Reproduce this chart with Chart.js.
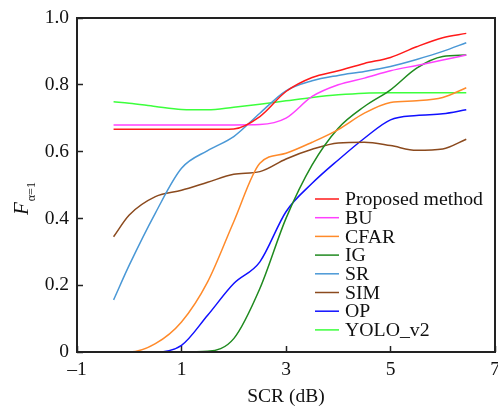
<!DOCTYPE html>
<html>
<head>
<meta charset="utf-8">
<script src="https://cdn.jsdelivr.net/npm/chart.js@4.4.1/dist/chart.umd.min.js"></script>
<style>
  body { margin: 0; background: #fff; }
  #wrap { width: 498px; height: 412px; position: relative; }
</style>
</head>
<body>
<div id="wrap"><canvas id="chartCanvas"></canvas></div>
<script>
const scr = [-0.3, 0, 0.5, 1, 1.5, 2, 2.5, 3, 3.5, 4, 4.5, 5, 5.5, 6, 6.45];

const proposed = [0.667, 0.667, 0.667, 0.667, 0.667, 0.668, 0.705, 0.78, 0.822, 0.842, 0.864, 0.882, 0.914, 0.941, 0.954];
const bu       = [0.68, 0.68, 0.68, 0.68, 0.68, 0.68, 0.681, 0.70, 0.765, 0.80, 0.82, 0.842, 0.858, 0.874, 0.889];
const cfar     = [0, 0, 0.025, 0.09, 0.21, 0.39, 0.565, 0.595, 0.628, 0.666, 0.715, 0.747, 0.752, 0.762, 0.791];
const ig       = [0, 0, 0, 0, 0.002, 0.04, 0.19, 0.40, 0.56, 0.67, 0.735, 0.785, 0.85, 0.885, 0.889];
const sr       = [0.156, 0.26, 0.416, 0.55, 0.603, 0.645, 0.715, 0.782, 0.812, 0.828, 0.84, 0.855, 0.876, 0.90, 0.926];
const sim      = [0.345, 0.41, 0.465, 0.484, 0.508, 0.532, 0.54, 0.578, 0.607, 0.626, 0.628, 0.618, 0.604, 0.608, 0.637];
const op       = [0, 0, 0, 0.02, 0.11, 0.205, 0.27, 0.42, 0.505, 0.575, 0.64, 0.695, 0.708, 0.713, 0.725];
const yolo     = [0.749, 0.745, 0.735, 0.726, 0.725, 0.733, 0.742, 0.752, 0.762, 0.770, 0.775, 0.776, 0.776, 0.776, 0.776];

const seriesNames = ['Proposed method', 'BU', 'CFAR', 'IG', 'SR', 'SIM', 'OP', 'YOLO_v2'];
const seriesValues = [proposed, bu, cfar, ig, sr, sim, op, yolo];
const seriesColors = ['#ff1a1a', '#ff40ff', '#ff8a2a', '#1f8a1f', '#4a98d6', '#8b4a1e', '#1010ff', '#3cff3c'];

const serif = 'Liberation Serif, Times New Roman, serif';

const datasets = seriesNames.map((name, i) => ({
  label: name,
  data: scr.map((x, j) => ({ x: x, y: seriesValues[i][j] })),
  borderColor: seriesColors[i],
  borderWidth: 1.5,
  pointRadius: 0,
  cubicInterpolationMode: 'monotone',
  fill: false
}));

// frame, legend and y title drawn on top of the datasets
const extras = {
  id: 'extras',
  afterDatasetsDraw(chart) {
    const ctx = chart.ctx;
    const a = chart.chartArea;
    ctx.save();
    ctx.strokeStyle = '#222';
    ctx.lineWidth = 2;
    ctx.strokeRect(a.left, a.top, a.right - a.left, a.bottom - a.top);

    ctx.font = '19.8px ' + serif;
    ctx.textBaseline = 'middle';
    ctx.fillStyle = '#111';
    chart.data.datasets.forEach((ds, i) => {
      const y = 199 + i * 18.7;
      ctx.strokeStyle = ds.borderColor;
      ctx.lineWidth = 1.5;
      ctx.beginPath();
      ctx.moveTo(315, y);
      ctx.lineTo(339, y);
      ctx.stroke();
      ctx.fillText(ds.label, 345, y + 1);
    });

    ctx.translate(28, 215);
    ctx.rotate(-Math.PI / 2);
    ctx.textBaseline = 'alphabetic';
    ctx.font = 'italic 21px ' + serif;
    ctx.fillText('F', 0, 0);
    const w = ctx.measureText('F').width;
    ctx.font = '12px ' + serif;
    ctx.fillText('\u03b1=1', w + 1, 7);
    ctx.restore();
  }
};

new Chart(document.getElementById('chartCanvas'), {
  type: 'line',
  data: { datasets: datasets },
  options: {
    responsive: true,
    maintainAspectRatio: false,
    animation: false,
    layout: { padding: { top: 18, right: 3, left: 0, bottom: 0 } },
    plugins: { legend: { display: false }, tooltip: { enabled: false } },
    scales: {
      x: {
        type: 'linear',
        min: -1,
        max: 7,
        border: { display: false },
        grid: { drawOnChartArea: false, drawTicks: true, tickLength: -6, tickColor: '#222', tickWidth: 1.5 },
        ticks: {
          stepSize: 2,
          padding: 12,
          color: '#111',
          font: { size: 19.5, family: serif },
          callback: v => v < 0 ? '\u2013' + Math.abs(v) : String(v)
        },
        title: {
          display: true,
          text: 'SCR (dB)',
          color: '#111',
          font: { size: 19.5, family: serif },
          padding: { top: 0, bottom: 3 }
        },
        afterFit: s => { s.height = 60; s.paddingLeft = 0; s.paddingRight = 0; }
      },
      y: {
        min: 0,
        max: 1,
        border: { display: false },
        grid: { drawOnChartArea: false, drawTicks: true, tickLength: -6, tickColor: '#222', tickWidth: 1.5 },
        ticks: {
          stepSize: 0.2,
          padding: 14,
          color: '#111',
          font: { size: 19.5, family: serif },
          callback: v => v === 0 ? '0' : v.toFixed(1)
        },
        afterFit: s => { s.width = 77; s.paddingTop = 0; s.paddingBottom = 0; }
      }
    }
  },
  plugins: [extras]
});
</script>
</body>
</html>
